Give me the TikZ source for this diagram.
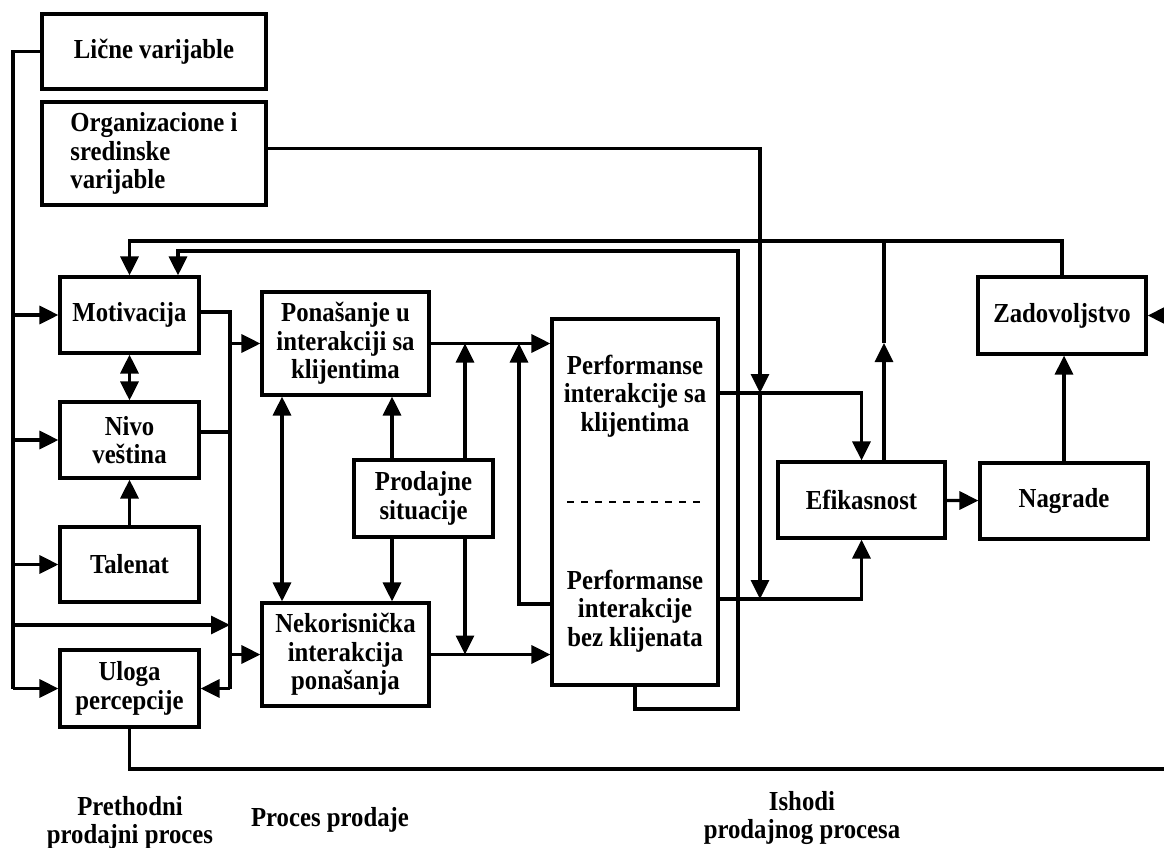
\documentclass[tikz,border=0pt]{standalone}
\usepackage{fontspec}
\setmainfont[FakeStretch=0.9]{Liberation Serif}
\usetikzlibrary{arrows.meta}

\begin{document}
\begin{tikzpicture}
  [x=1pt,y=-1pt,line width=3.2pt,
   box/.style={draw,fill=white,align=center,inner sep=0pt,font=\bfseries\fontsize{27.5}{28.5}\selectfont},
   lbl/.style={align=center,inner sep=0pt,font=\bfseries\fontsize{27.5}{28.5}\selectfont},
   arr/.style={-{Triangle[length=19pt,width=18pt]}},
   darr/.style={{Triangle[length=19pt,width=18pt]}-{Triangle[length=19pt,width=18pt]}}]
  \useasboundingbox (0,0) rectangle (1164,848);

  \node[box,minimum width=224pt,minimum height=75pt] (lic) at (154,51.5) {Lične varijable};
  \node[box,minimum width=224pt,minimum height=103pt,align=left] (org) at (154,153.5) {Organizacione i\\sredinske\\varijable};
  \node[box,minimum width=139pt,minimum height=76pt] (mot) at (129.5,315) {Motivacija};
  \node[box,minimum width=139pt,minimum height=76pt] (niv) at (129.5,440) {Nivo\\veština};
  \node[box,minimum width=139pt,minimum height=75pt] (tal) at (129.5,564.5) {Talenat};
  \node[box,minimum width=139pt,minimum height=77pt] (ulo) at (129.5,688.5) {Uloga\\percepcije};
  \node[box,minimum width=167pt,minimum height=103pt] (pon) at (345.5,343.5) {Ponašanje u\\interakciji sa\\klijentima};
  \node[box,minimum width=139pt,minimum height=77pt] (pro) at (423.5,498.5) {Prodajne\\situacije};
  \node[box,minimum width=167pt,minimum height=103pt] (nek) at (345.5,654.5) {Nekorisnička\\interakcija\\ponašanja};
  \node[box,minimum width=166pt,minimum height=366pt] (per) at (635,502) {};
  \node[lbl] (perA) at (635,396) {Performanse\\interakcije sa\\klijentima};
  \node[lbl] (perB) at (635,611) {Performanse\\interakcije\\bez klijenata};
  \node[box,minimum width=167pt,minimum height=76pt] (efi) at (861.5,500) {Efikasnost};
  \node[box,minimum width=168pt,minimum height=76pt] (nag) at (1064,501) {Nagrade};
  \node[box,minimum width=168pt,minimum height=77pt] (zad) at (1062,315.5) {Zadovoljstvo};

  \node[lbl] (pre) at (130,823) {Prethodni\\prodajni proces};
  \node[lbl] (pp) at (330,820) {Proces prodaje};
  \node[lbl] (ish) at (802,818) {Ishodi\\prodajnog procesa};

  \draw[line width=2.5pt,dash pattern=on 7pt off 7pt] (567,502) -- (700,502);

  \coordinate (xL) at (13,0);
  \coordinate (xR) at (230,0);
  \coordinate (x178) at (178,0);
  \coordinate (x282) at (282,0);
  \coordinate (x392) at (392,0);
  \coordinate (x465) at (465,0);
  \coordinate (x519) at (519,0);
  \coordinate (x738) at (738,0);
  \coordinate (x760) at (760,0);
  \coordinate (x884) at (884,0);
  \coordinate (y241) at (0,241);
  \coordinate (y251) at (0,251);
  \coordinate (y343) at (0,343);
  \coordinate (y393) at (0,393);
  \coordinate (y599) at (0,599);
  \coordinate (y604) at (0,604);
  \coordinate (y625) at (0,625);

  % left bus
  \draw (lic.west) -| (xL |- ulo.west);
  \foreach \to in {mot,niv,tal,ulo}
    \draw[arr] (xL |- \to.west) -- (\to.west);
  \draw[arr] (xL |- y625) -- (xR |- y625);

  % right bus
  \draw ([yshift=3pt]mot.east) -| (xR |- ulo.east);
  \draw ([yshift=8pt]niv.east) -- ++(31,0);
  \draw[arr] (xR |- ulo.east) -- (ulo.east);
  \draw[arr] (xR |- pon.west) -- (pon.west);
  \draw[arr] (xR |- nek.west) -- (nek.west);

  \draw[darr] (mot) -- (niv);
  \draw[arr] (tal) -- (niv);

  % sales process
  \draw[darr] (pon.south -| x282) -- (nek.north -| x282);
  \draw[arr] (pro.north -| x392) -- (pon.south -| x392);
  \draw[arr] (pro.south -| x392) -- (nek.north -| x392);
  \draw[arr] (pro.north -| x465) -- (x465 |- pon.east);
  \draw[arr] (pro.south -| x465) -- (x465 |- nek.east);
  \draw[arr] (pon.east) -- (per.west |- pon.east);
  \draw[arr] (nek.east) -- (per.west |- nek.east);
  \draw[arr] (per.west |- y604) -| (x519 |- pon.east);

  % outcomes
  \draw[arr] (per.east |- y393) -| (efi.north);
  \draw[arr] (per.east |- y599) -| (efi.south);
  \draw[arr] ([yshift=5pt]org.east) -| (x760 |- y393);
  \draw[arr] (x760 |- y393) -- (x760 |- y599);
  \draw[arr] (efi) -- (nag);
  \draw[arr] (nag.north) -- (nag.north |- zad.south);

  % feedback
  \draw[arr] (per.south) |- (738,709) -- (x738 |- y251) -| (x178 |- mot.north);
  \draw[arr] (zad.north) |- (mot.north |- y241) -- (mot.north);
  \draw[arr] (efi.north -| x884) -- (x884 |- y343);
  \draw (x884 |- y343) -- (x884 |- y241);
  \draw[arr] (ulo.south) |- (1180,769) |- (zad.east);

\end{tikzpicture}
\end{document}
